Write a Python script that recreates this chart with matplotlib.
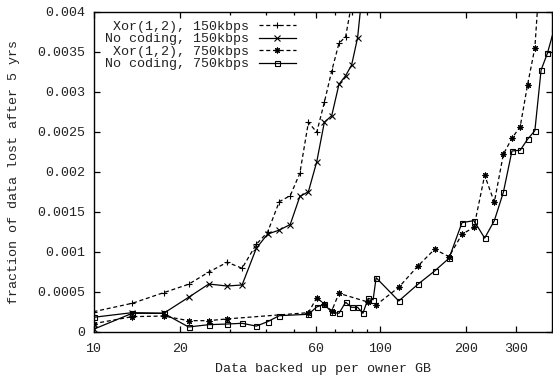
import matplotlib
matplotlib.use("Agg")
import matplotlib.pyplot as plt
from matplotlib.ticker import FixedLocator, FixedFormatter, NullFormatter

# ---- data ----
x_xor150 = [10, 13.65, 17.59, 21.49, 25.29, 29.31, 33.05, 37.06, 40.57, 44.57, 48.68,
            52.60, 56.35, 60.27, 64.06, 67.98, 72.06, 76.03, 79.78]
y_xor150 = [0.00025, 0.000355, 0.000488, 0.000593, 0.000746, 0.000868, 0.000793, 0.001093,
            0.001243, 0.001625, 0.0017, 0.00198, 0.002618, 0.002493, 0.002868, 0.003259,
            0.003605, 0.003688, 0.0041]

x_nc150 = [10, 13.65, 17.59, 21.49, 25.29, 29.31, 33.05, 37.06, 40.57, 44.57, 48.68,
           52.60, 56.35, 60.27, 64.06, 67.98, 72.06, 76.03, 79.78, 83.71, 87.82]
y_nc150 = [0.00003, 0.00023, 0.00023, 0.00043, 0.000596, 0.000571, 0.000584, 0.001043,
           0.00122, 0.00127, 0.00134, 0.00169, 0.00175, 0.002125, 0.002618, 0.0027,
           0.003093, 0.0032, 0.003334, 0.003675, 0.0044]

x_xor750 = [10, 13.65, 17.59, 21.49, 25.29, 29.31, 56.35, 60.27, 64.06, 67.98, 72.06,
            91.12, 97.16, 116.6, 136.0, 155.5, 174.7, 193.9, 213.4, 232.7, 251.5, 270.5,
            289.8, 309.7, 328.5, 348.5, 366.4]
y_xor750 = [0.0001, 0.000188, 0.000196, 0.000138, 0.000138, 0.00016, 0.000238, 0.000425,
            0.000346, 0.00026, 0.00048, 0.00037, 0.000334, 0.000555, 0.000821, 0.00103,
            0.000938, 0.001218, 0.001305, 0.001955, 0.001618, 0.002219, 0.002418,
            0.002563, 0.003084, 0.00355, 0.0047]

x_nc750 = [10, 13.65, 17.59, 21.49, 25.29, 29.31, 33.05, 37.06, 40.57, 44.57, 56.35,
           60.27, 64.06, 67.98, 72.06, 76.03, 79.78, 83.71, 87.37, 91.12, 94.85, 97.16,
           116.6, 136.0, 155.5, 174.7, 193.9, 213.4, 232.7, 251.5, 270.5, 289.8, 309.7,
           328.5, 348.5, 366.4, 385.5, 406.7]
y_nc750 = [0.00018, 0.000238, 0.00023, 0.000059, 0.000088, 0.000096, 0.000105, 0.00007,
           0.000125, 0.0002, 0.000218, 0.00031, 0.000343, 0.000243, 0.00023, 0.000368,
           0.000305, 0.000305, 0.00023, 0.000416, 0.0004, 0.000675, 0.000384, 0.000593,
           0.000758, 0.000918, 0.001363, 0.001388, 0.00117, 0.001388, 0.001743, 0.002259,
           0.002268, 0.002405, 0.002513, 0.003271, 0.00348, 0.00378]

labels = ["Xor(1,2), 150kbps", "No coding, 150kbps", "Xor(1,2), 750kbps", "No coding, 750kbps"]

x_major = [10, 20, 60, 100, 200, 300]
x_major_labels = ["10", "20", "60", "100", "200", "300"]
x_minor = [30, 40, 50, 70, 80, 90, 400]
y_ticks = [0, 0.0005, 0.001, 0.0015, 0.002, 0.0025, 0.003, 0.0035, 0.004]
y_tick_labels = ["0", "0.0005", "0.001", "0.0015", "0.002", "0.0025", "0.003", "0.0035", "0.004"]

# ---- style ----
FONT = "Liberation Mono"
FS = 9.6
plt.rcParams["font.family"] = [FONT, "DejaVu Sans Mono"]
plt.rcParams["font.size"] = FS

fig = plt.figure(figsize=(5.53, 3.75), dpi=100)
ax = fig.add_axes([93.5 / 553, 1 - 331.7 / 375, (552 - 93.5) / 553, (331.7 - 11.7) / 375])

dash = (0, (3.2, 2.2))
lw = 0.9
ax.plot(x_xor150, y_xor150, color="black", lw=lw, linestyle=dash, marker="+",
        markersize=4.5, markeredgewidth=0.8, label=labels[0])
ax.plot(x_nc150, y_nc150, color="black", lw=lw, linestyle="-", marker="x",
        markersize=3.8, markeredgewidth=0.8, label=labels[1])
ax.plot(x_xor750, y_xor750, color="black", lw=lw, linestyle=dash, marker=(8, 2, 0),
        markersize=4.2, markeredgewidth=0.8, label=labels[2])
ax.plot(x_nc750, y_nc750, color="black", lw=lw, linestyle="-", marker="s",
        markersize=3.6, markeredgewidth=0.8, markerfacecolor="none", label=labels[3])

ax.set_xscale("log")
ax.set_xlim(10, 400)
ax.set_ylim(0, 0.004)

ax.xaxis.set_major_locator(FixedLocator(x_major))
ax.xaxis.set_major_formatter(FixedFormatter(x_major_labels))
ax.xaxis.set_minor_locator(FixedLocator(x_minor))
ax.xaxis.set_minor_formatter(NullFormatter())
ax.yaxis.set_major_locator(FixedLocator(y_ticks))
ax.yaxis.set_major_formatter(FixedFormatter(y_tick_labels))

ax.tick_params(which="both", direction="in", top=True, right=True, labelsize=FS,
               colors="black", labelcolor="#222222")
ax.tick_params(which="major", length=4.5, width=0.9, pad=6)
ax.tick_params(axis="x", which="major", pad=8)
ax.tick_params(which="minor", length=2.5, width=0.9)
for s in ax.spines.values():
    s.set_linewidth(1.0)

ax.set_xlabel("Data backed up per owner GB", fontsize=FS, color="#222222", labelpad=6)
ax.set_ylabel("fraction of data lost after 5 yrs", fontsize=FS, color="#222222", labelpad=12)

leg = ax.legend(loc="upper right", bbox_to_anchor=((296 - 93.5) / (552 - 93.5), 0.973),
                frameon=False, markerfirst=False, handlelength=2.8, handletextpad=0.7,
                labelspacing=0.02, borderpad=0, borderaxespad=0, fontsize=FS)
for t in leg.get_texts():
    t.set_color("#222222")

fig.savefig("out.png", dpi=100)
